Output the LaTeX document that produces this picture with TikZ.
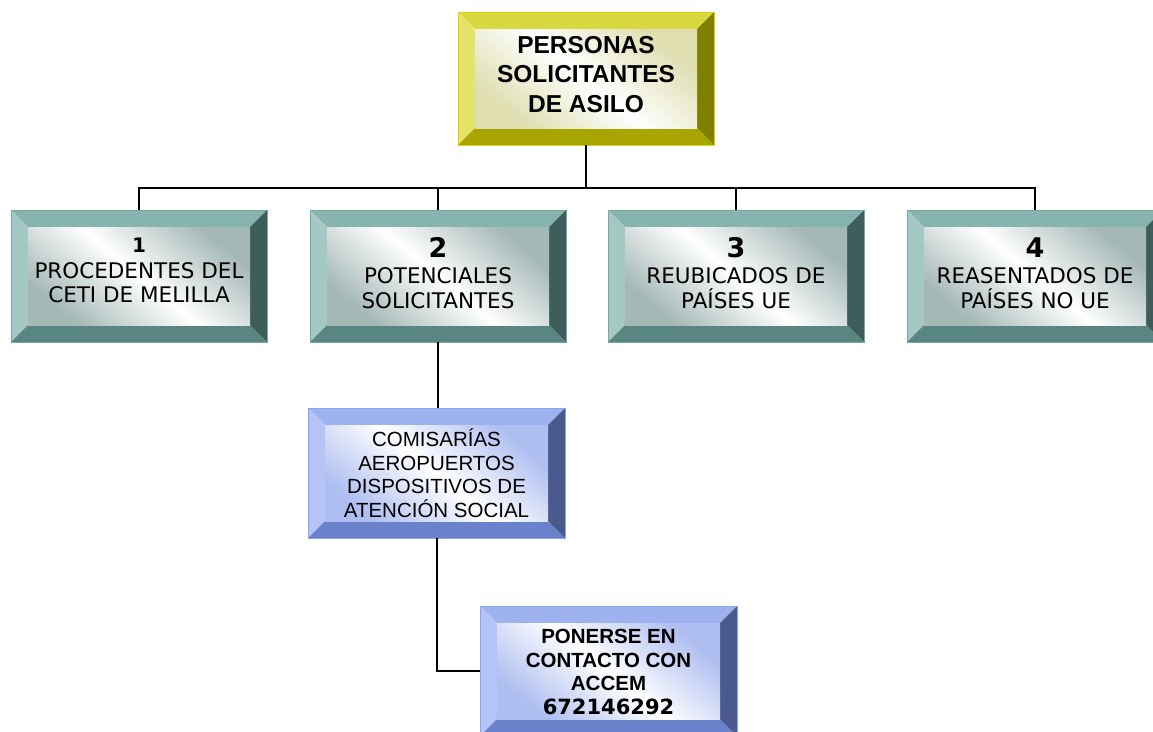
\documentclass[tikz,border=0pt]{standalone}
\usepackage{fontspec}
\setmainfont{Liberation Sans}
\newfontfamily\verd{DejaVu Sans}
\definecolor{olTop}{HTML}{D8D840}
\definecolor{olLeft}{HTML}{E4E468}
\definecolor{olBottom}{HTML}{A8A400}
\definecolor{olRight}{HTML}{808000}
\definecolor{olIn}{HTML}{DEDEB0}
\definecolor{olEdge}{HTML}{D4D400}
\definecolor{tlTop}{HTML}{88B4B0}
\definecolor{tlLeft}{HTML}{A4C8C4}
\definecolor{tlBottom}{HTML}{5A8682}
\definecolor{tlRight}{HTML}{3E5E5C}
\definecolor{tlIn}{HTML}{A4B8B6}
\definecolor{tlEdge}{HTML}{7AA6A2}
\definecolor{blTop}{HTML}{9EB2F0}
\definecolor{blLeft}{HTML}{B4C4F6}
\definecolor{blBottom}{HTML}{6A82CC}
\definecolor{blRight}{HTML}{4A5A8E}
\definecolor{blIn}{HTML}{AEBEF0}
\definecolor{blEdge}{HTML}{8EA4EA}
\tikzset{
  link/.style={draw=black, line width=2pt},
  boxtext/.style={align=center, text=black, inner sep=0pt},
}
% #1 name, #2 cx, #3 cy, #4 w, #5 h, #6 palette, #7 text style, #8 text
\newcommand\bevelbox[8]{%
  \node[minimum width=#4pt, minimum height=#5pt, inner sep=0pt, outer sep=0pt] (#1) at (#2,#3) {};
  \fill[#6Top] (#1.north west) -- (#1.north east) -- ([shift={(-17pt,-17pt)}]#1.north east) -- ([shift={(17pt,-17pt)}]#1.north west) -- cycle;
  \fill[#6Left] (#1.north west) -- ([shift={(17pt,-17pt)}]#1.north west) -- ([shift={(17pt,17pt)}]#1.south west) -- (#1.south west) -- cycle;
  \fill[#6Bottom] (#1.south west) -- ([shift={(17pt,17pt)}]#1.south west) -- ([shift={(-17pt,17pt)}]#1.south east) -- (#1.south east) -- cycle;
  \fill[#6Right] (#1.north east) -- ([shift={(-17pt,-17pt)}]#1.north east) -- ([shift={(-17pt,17pt)}]#1.south east) -- (#1.south east) -- cycle;
  \shade[top color=#6In, bottom color=#6In, middle color=white, shading angle=-40]
    ([shift={(17pt,-17pt)}]#1.north west) rectangle ([shift={(-17pt,17pt)}]#1.south east);
  \draw[#6Edge, line width=1pt] (#1.north west) rectangle (#1.south east);
  \node[boxtext, #7] (#1t) at (#1.center) {#8};
}
\newcommand\bignum[1]{{\bfseries\fontsize{27}{29}\selectfont #1}\\[1pt]}
\begin{document}
\begin{tikzpicture}[x=1pt, y=-1pt]
\useasboundingbox (0,0) rectangle (1153,731);
\fill[white] (0,0) rectangle (1153,731);
\clip (0,0) rectangle (1153,731);

\bevelbox{top}{586}{78.5}{256}{133}{ol}{font=\fontsize{24.5}{29.5}\selectfont\bfseries, yshift=4pt}{PERSONAS\\SOLICITANTES\\DE ASILO}
\bevelbox{b1}{139}{276}{256}{132}{tl}{font=\verd\fontsize{21.5}{24}\selectfont, yshift=6pt}{{\bfseries\fontsize{20}{22}\selectfont 1}\\[2pt]PROCEDENTES DEL\\CETI DE MELILLA}
\bevelbox{b2}{438}{276}{256}{132}{tl}{font=\verd\fontsize{21.5}{25}\selectfont, yshift=3pt}{\bignum{2}POTENCIALES\\SOLICITANTES}
\bevelbox{b3}{736}{276}{256}{132}{tl}{font=\verd\fontsize{21.5}{25}\selectfont, yshift=3pt}{\bignum{3}REUBICADOS DE\\PAÍSES UE}
\bevelbox{b4}{1035}{276}{256}{132}{tl}{font=\verd\fontsize{21.5}{25}\selectfont, yshift=3pt}{\bignum{4}REASENTADOS DE\\PAÍSES NO UE}
\bevelbox{com}{436.5}{473}{257}{130}{bl}{font=\fontsize{20.5}{23.5}\selectfont}{COMISARÍAS\\AEROPUERTOS\\DISPOSITIVOS DE\\ATENCIÓN SOCIAL}
\bevelbox{pon}{608.5}{671}{257}{130}{bl}{font=\fontsize{20.5}{23.5}\selectfont\bfseries, yshift=-1pt}{PONERSE EN\\CONTACTO CON\\ACCEM\\{\verd\fontsize{21}{23.5}\selectfont 672146292}}

\coordinate (bus) at (586,188);
\draw[link] (top.south) -- (bus);
\draw[link] (b1.north) |- (bus) -| (b4.north);
\draw[link] (b2.north) -- (b2.north |- bus);
\draw[link] (b3.north) -- (b3.north |- bus);
\draw[link] (b2.south) -- (b2.south |- com.north);
\draw[link] (com.south) |- (pon.west);
\end{tikzpicture}
\end{document}
